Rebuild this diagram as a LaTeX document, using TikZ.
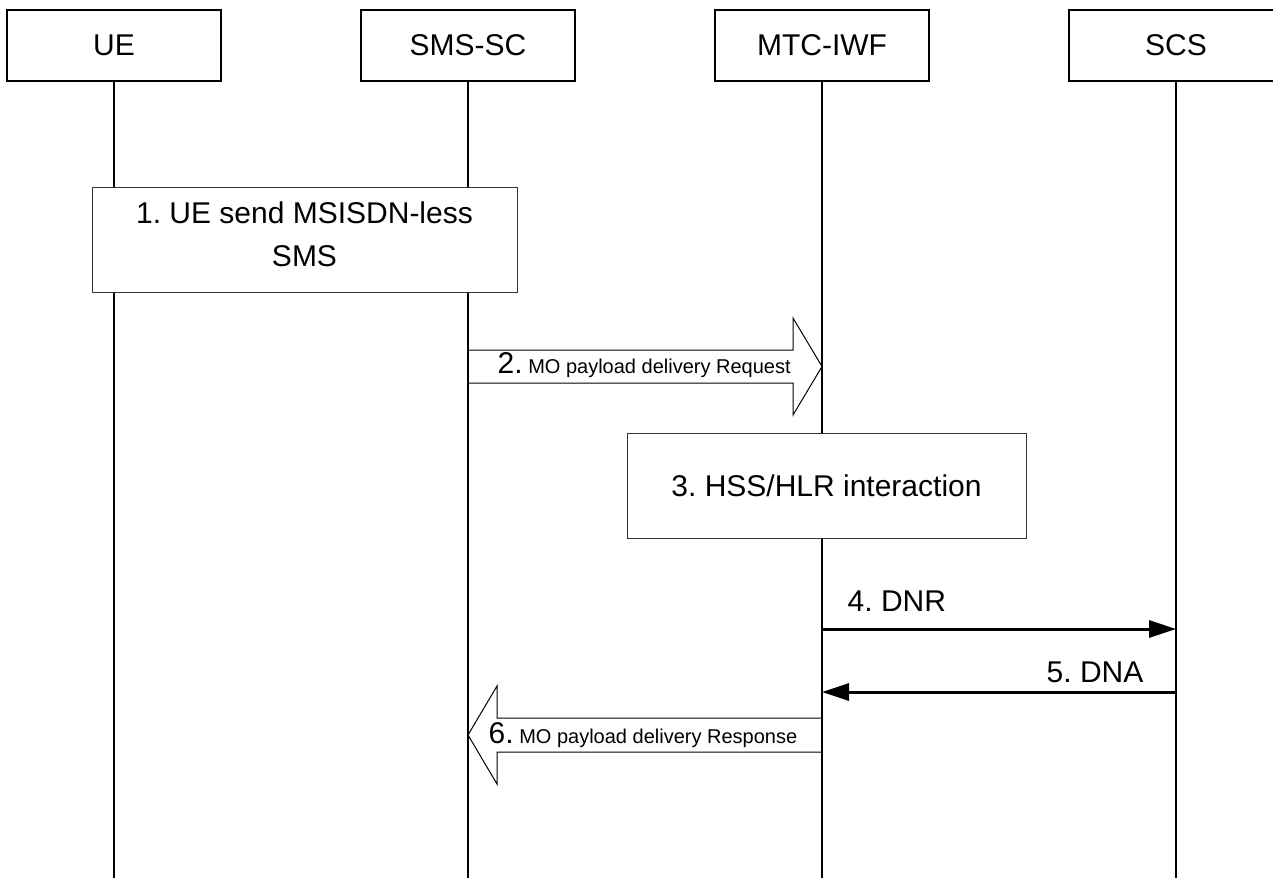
\documentclass[tikz,border=0pt]{standalone}
\usepackage{fontspec}
\setmainfont{Liberation Sans}
\usetikzlibrary{arrows.meta,positioning,calc}
\frenchspacing
\newcommand{\smalltxt}{\fontsize{20}{24}\selectfont}
\tikzset{
  ent/.style     = { draw, line width=2.5pt, minimum width=214pt, minimum height=71pt,
    font=\fontsize{30}{36}\selectfont },
  stepbox/.style = { draw=black!80, line width=1pt, fill=white, align=center,
    font=\fontsize{30}{43}\selectfont },
  life/.style    = { line width=2.5pt },
  msg/.style     = { line width=3pt, -{Triangle[length=27pt,width=17pt]} },
  blk/.style     = { draw, line width=1pt, line join=miter },
  lbl/.style     = { anchor=base west, inner sep=0pt, font=\fontsize{30}{36}\selectfont }
}
\begin{document}
\begin{tikzpicture}[x=1pt,y=-1pt,node distance=354pt,on grid]
  \clip (0,0) rectangle (1273,878);
  % entities
  \node[ent] (ue) at (114,45.5) {UE};
  \node[ent, right=of ue] (smssc) {SMS-SC};
  \node[ent, right=of smssc] (mtciwf) {MTC-IWF};
  \node[ent, right=of mtciwf] (scs) {SCS};
  % lifelines
  \foreach \n in {ue,smssc,mtciwf,scs} {
    \coordinate (\n-end) at (\n |- 0,878);
    \draw[life] (\n.south) -- (\n-end);
  }
  % 1: MSISDN-less SMS
  \node[stepbox, minimum width=425pt, minimum height=105pt, text depth=10pt]
    (s1) at (304.5,239.5) {1. UE send MSISDN-less\\SMS};
  % 2: request
  \coordinate (h2) at ($(mtciwf.south)+(-29,0)$);
  \draw[blk] (smssc |- 0,350) -- (h2 |- 0,350) -- (h2 |- 0,318)
    -- (mtciwf |- 0,366.5) -- (h2 |- 0,415) -- (h2 |- 0,383) -- (smssc |- 0,383);
  \node[lbl] (l2) at (497.5,373) {2.\smalltxt{} MO payload delivery Request};
  % 3: HSS/HLR
  \node[stepbox, minimum width=399pt, minimum height=105pt]
    (s3) at (826.5,485.5) {3. HSS/HLR interaction};
  % 4, 5: DNR / DNA
  \coordinate (m4a) at (mtciwf |- 0,629);
  \coordinate (m4b) at (scs |- 0,629);
  \coordinate (m5a) at (scs |- 0,692);
  \coordinate (m5b) at (mtciwf |- 0,692);
  \draw[msg] (m4a) -- (m4b);
  \draw[msg] (m5a) -- (m5b);
  \node[lbl] (l4) at (847.5,611) {4. DNR};
  \node[lbl] (l5) at (1046.5,682) {5. DNA};
  % 6: response
  \coordinate (h6) at ($(smssc.south)+(29,0)$);
  \draw[blk] (mtciwf |- 0,718) -- (h6 |- 0,718) -- (h6 |- 0,686)
    -- (smssc |- 0,735) -- (h6 |- 0,784) -- (h6 |- 0,752) -- (mtciwf |- 0,752);
  \node[lbl] (l6) at (488.5,743) {6.\smalltxt{} MO payload delivery Response};
\end{tikzpicture}
\end{document}
